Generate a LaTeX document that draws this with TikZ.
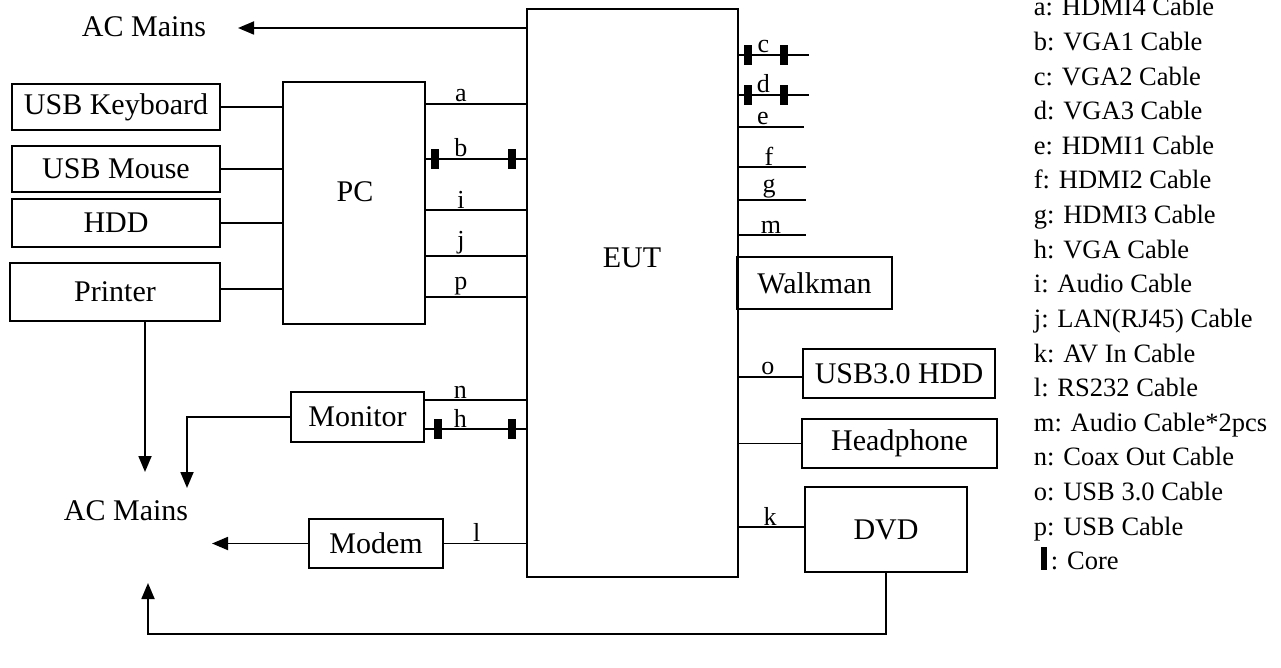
\documentclass[tikz,border=0pt]{standalone}
\usepackage{fontspec}
\setmainfont{Liberation Serif}
\usetikzlibrary{arrows.meta}

\begin{document}
\begin{tikzpicture}[
    x=1pt, y=-1pt,
    line width=1.8pt,
    unit/.style={draw, inner sep=0pt, font=\fontsize{30}{36}\selectfont},
    caption/.style={inner sep=0pt, font=\fontsize{30}{36}\selectfont},
    tag/.style={above, inner sep=1pt, font=\fontsize{26}{30}\selectfont},
    key/.style={anchor=base west, inner sep=0pt, font=\fontsize{26.5}{32}\selectfont},
    feed/.style={-{Triangle[length=16pt,width=13pt]}},
    core/.pic={
        \fill (-4,-10) rectangle (4,10);
    }
]
    \useasboundingbox (0,0) rectangle (1281,668);

    % units
    \node[unit, minimum width=211pt, minimum height=568pt] (eut) at (632.5,293) {};
    \node[caption] (euttext) at (632,258) {EUT};
    \node[unit, minimum width=142pt, minimum height=242pt] (pc) at (354,203) {};
    \node[caption] (pctext) at (355,192) {PC};
    \node[unit, minimum width=208pt, minimum height=46pt] (kbd) at (116,107) {USB Keyboard};
    \node[unit, minimum width=208pt, minimum height=46pt] (mouse) at (116,169) {USB Mouse};
    \node[unit, minimum width=208pt, minimum height=48pt] (hdd) at (116,223) {HDD};
    \node[unit, minimum width=210pt, minimum height=58pt] (prn) at (115,292) {Printer};
    \node[unit, minimum width=133pt, minimum height=50pt] (mon) at (357.5,417) {Monitor};
    \node[unit, minimum width=134pt, minimum height=49pt] (mdm) at (376,543.5) {Modem};
    \node[unit, minimum width=155pt, minimum height=52pt] (walk) at (814.5,283) {Walkman};
    \node[unit, minimum width=192pt, minimum height=49pt] (usb) at (899,373.5) {USB3.0 HDD};
    \node[unit, minimum width=195pt, minimum height=49pt] (hp) at (899.5,443.5) {Headphone};
    \node[unit, minimum width=162pt, minimum height=85pt] (dvd) at (886,529.5) {DVD};

    \node[caption, anchor=base] (acup) at (144,37) {AC Mains};
    \node[caption, anchor=base] (acdown) at (126,520) {AC Mains};

    % power
    \coordinate (tipup) at (238,28);
    \coordinate (tipprn) at (145,472);
    \coordinate (tipmon) at (187,488);
    \coordinate (tipmdm) at (212,543);
    \coordinate (tipdvd) at (148,583);
    \draw[feed] (tipup -| eut.west) -- (tipup);
    \draw[feed] (tipprn |- prn.south) -- (tipprn);
    \draw[feed] (mon.west) -| (tipmon);
    \draw[feed] (mdm.west) -- (mdm.west -| tipmdm);
    \draw[feed] (dvd.south) -- ++(0,61) -| (tipdvd);

    % cables
    \foreach \dev in {kbd,mouse,hdd}
        \draw (\dev.east) -- (\dev.east -| pc.west);
    \draw (prn.east |- 0,289) -- (pc.west |- 0,289);
    \foreach \y/\t in {104/a,159/b,210/i,256/j,297/p}
        \draw (pc.east |- 0,\y) -- node[tag, pos=.35] {\t} (eut.west |- 0,\y);
    \draw (mon.east |- 0,400) -- node[tag, pos=.35] {n} (eut.west |- 0,400);
    \draw (mon.east |- 0,429) -- node[tag, pos=.35] {h} (eut.west |- 0,429);
    \draw (mdm.east) -- node[tag, pos=.4] {l} (mdm.east -| eut.west);
    \foreach \y/\t/\len/\p in {55/c/70/.35,95/d/70/.35,127/e/65/.37,167/f/67/.45,200/g/67/.45,235/m/67/.48}
        \draw (eut.east |- 0,\y) -- node[tag, pos=\p] {\t} ++(\len,0);
    \draw (usb.west |- 0,377) -- node[tag, pos=.54] {o} (eut.east |- 0,377);
    \draw (hp.west) -- (hp.west -| eut.east);
    \draw (dvd.west |- 0,527) -- node[tag, pos=.52] {k} (eut.east |- 0,527);

    \foreach \x/\y in {435/159,512/159,438/429,512/429,748/55,784/55,748/95,784/95}
        \pic at (\x,\y) {core};

    % legend
    \foreach \t [count=\k from 0] in {a: HDMI4 Cable,b: VGA1 Cable,c: VGA2 Cable,d: VGA3 Cable,e: HDMI1 Cable,f: HDMI2 Cable,g: HDMI3 Cable,h: VGA Cable,i: Audio Cable,j: LAN(RJ45) Cable,k: AV In Cable,l: RS232 Cable,m: Audio Cable*2pcs,n: Coax Out Cable,o: USB 3.0 Cable,p: USB Cable}
        \node[key] (key\k) at (1033,16+34.6*\k) {\t};
    \node[key] (keycore) at (1040,569.6) {\rule{6pt}{23pt}\hspace{4pt}: Core};
\end{tikzpicture}
\end{document}
